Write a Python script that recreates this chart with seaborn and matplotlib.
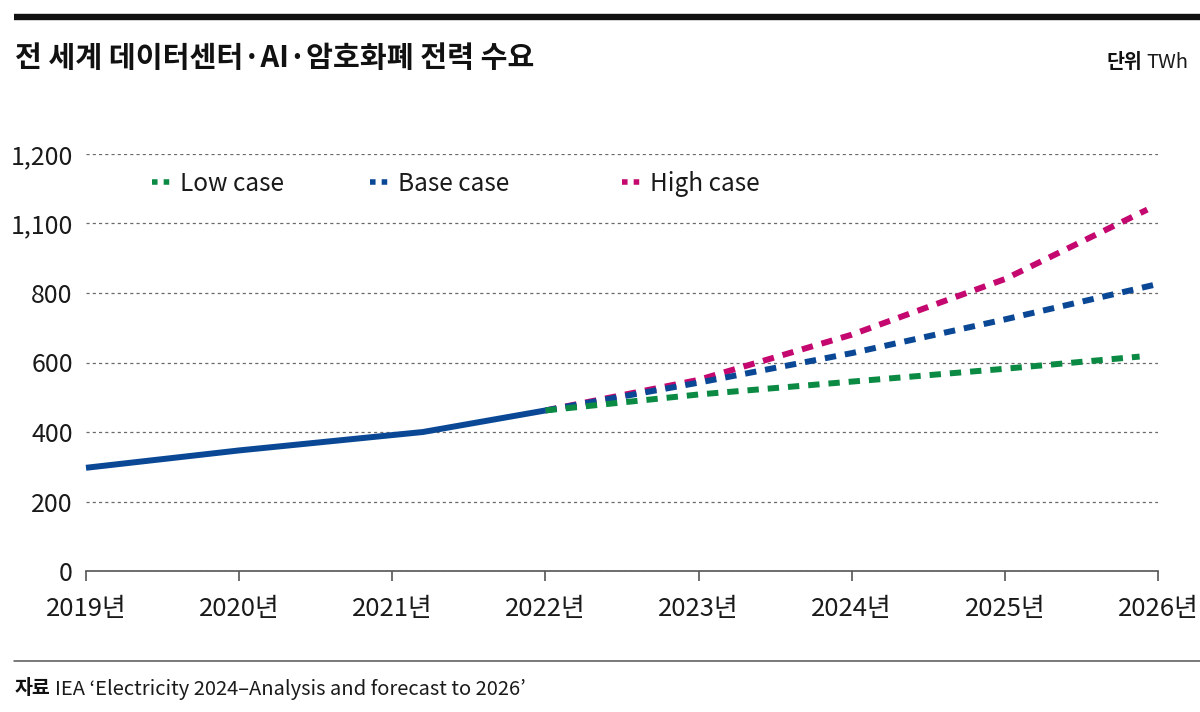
import matplotlib
matplotlib.use("Agg")
import matplotlib.pyplot as plt
from matplotlib.lines import Line2D
import seaborn as sns

# ---- data ----
actual_years = [2019, 2020, 2021.2, 2022]
actual_vals = [297, 347, 400, 462]

low_years = [2022, 2023, 2024, 2025, 2025.88]
low_vals = [462, 508, 545, 582, 617]

base_years = [2022, 2023, 2024, 2025, 2026.0]
base_vals = [462, 542, 627, 724, 826]

high_years = [2022, 2023, 2024, 2025, 2025.93]
high_vals = [462, 550, 680, 840, 1040]

x_ticks = [2019, 2020, 2021, 2022, 2023, 2024, 2025, 2026]
x_labels = ["2019년", "2020년", "2021년", "2022년", "2023년", "2024년", "2025년", "2026년"]
y_ticks = [0, 200, 400, 600, 800, 1000, 1200]
y_labels = ["0", "200", "400", "600", "800", "1,100", "1,200"]

series_names = ["Low case", "Base case", "High case"]

title = "전 세계 데이터센터·AI·암호화폐 전력 수요"
unit_bold, unit_reg = "단위", "TWh"
src_bold = "자료"
src_reg = "IEA ‘Electricity 2024–Analysis and forecast to 2026’"

GREEN = "#0b8a44"
BLUE = "#0a4896"
MAGENTA = "#c4086f"
TXT = "#1a1a1a"

sns.set_theme(style="white")
plt.rcParams["font.family"] = ["Noto Sans CJK KR", "DejaVu Sans"]

W, H = 1200, 712
fig = plt.figure(figsize=(W / 100, H / 100), dpi=100)
ax = fig.add_axes([86 / W, 1 - 571 / H, (1158 - 86) / W, (571 - 154) / H])

LW = 4.3
DASH = (0, (1.9, 1.5))

sns.lineplot(x=high_years, y=high_vals, color=MAGENTA, lw=LW, linestyle=DASH, ax=ax, legend=False)
sns.lineplot(x=base_years, y=base_vals, color=BLUE, lw=LW, linestyle=DASH, ax=ax, legend=False)
sns.lineplot(x=low_years, y=low_vals, color=GREEN, lw=LW, linestyle=DASH, ax=ax, legend=False)
sns.lineplot(x=actual_years, y=actual_vals, color=BLUE, lw=LW, ax=ax, legend=False)
for ln in ax.lines:
    ln.set_clip_on(False)
    ln.set_dash_capstyle("butt")
    ln.set_solid_capstyle("butt")

ax.set_xlim(2019, 2026)
ax.set_ylim(0, 1200)
ax.set_xticks(x_ticks)
ax.set_xticklabels(x_labels)
ax.set_yticks(y_ticks)
ax.set_yticklabels(y_labels)
ax.set_xlabel("")
ax.set_ylabel("")

ax.set_axisbelow(True)
ax.yaxis.grid(True, linestyle=(0, (2.5, 2.5)), color="#6a6a6a", lw=0.9)
ax.xaxis.grid(False)
for s in ["left", "right", "top"]:
    ax.spines[s].set_visible(False)
ax.spines["bottom"].set_color("#555555")
ax.spines["bottom"].set_linewidth(1.2)

ax.tick_params(axis="x", direction="out", length=7.5, width=1.2, color="#555555",
               pad=10.5, labelsize=18.5, labelcolor=TXT, bottom=True)
ax.tick_params(axis="y", length=0, pad=9.5, labelsize=18, labelcolor=TXT, left=False)
for lab in ax.get_xticklabels() + ax.get_yticklabels():
    lab.set_fontweight("light")

# ---- legends (three separate entries) ----
leg_x = [152, 370, 622]
for name, col, lx in zip(series_names, [GREEN, BLUE, MAGENTA], leg_x):
    h = Line2D([0], [0], color=col, lw=4, linestyle=(0, (1, 1.1)))
    leg = fig.legend([h], [name], loc="center left",
                     bbox_to_anchor=(lx / W, 1 - 184 / H),
                     frameon=False, handlelength=0.72,
                     handletextpad=0.45, borderpad=0, borderaxespad=0,
                     prop={"size": 17.5, "weight": "light"})
    for t in leg.get_texts():
        t.set_color(TXT)

# ---- decorations ----
fig.add_artist(Line2D([14 / W, 1.0], [1 - 16.5 / H, 1 - 16.5 / H], color="#111111", lw=4.6,
                      transform=fig.transFigure, solid_capstyle="butt"))
fig.add_artist(Line2D([14 / W, 1.0], [1 - 661 / H, 1 - 661 / H], color="#555555", lw=1.1,
                      transform=fig.transFigure))

fig.text(15 / W, 1 - 58 / H, title, fontsize=21, fontweight="bold", color="#111111",
         ha="left", va="center")

t_unit = fig.text(1188 / W, 1 - 62 / H, unit_reg, fontsize=14.5, fontweight="light", color=TXT,
                  ha="right", va="center")
fig.canvas.draw()
bb = t_unit.get_window_extent()
fig.text((bb.x0 - 4) / W, 1 - 62 / H, unit_bold, fontsize=14, fontweight="bold", color="#111111",
         ha="right", va="center")

t_src = fig.text(15 / W, 1 - 689 / H, src_bold, fontsize=14, fontweight="bold", color="#111111",
                 ha="left", va="center")
fig.canvas.draw()
bb = t_src.get_window_extent()
fig.text((bb.x1 + 4) / W, 1 - 689 / H, src_reg, fontsize=14.5, fontweight="light", color=TXT,
         ha="left", va="center")

fig.savefig("out.png", dpi=100, facecolor="white")
